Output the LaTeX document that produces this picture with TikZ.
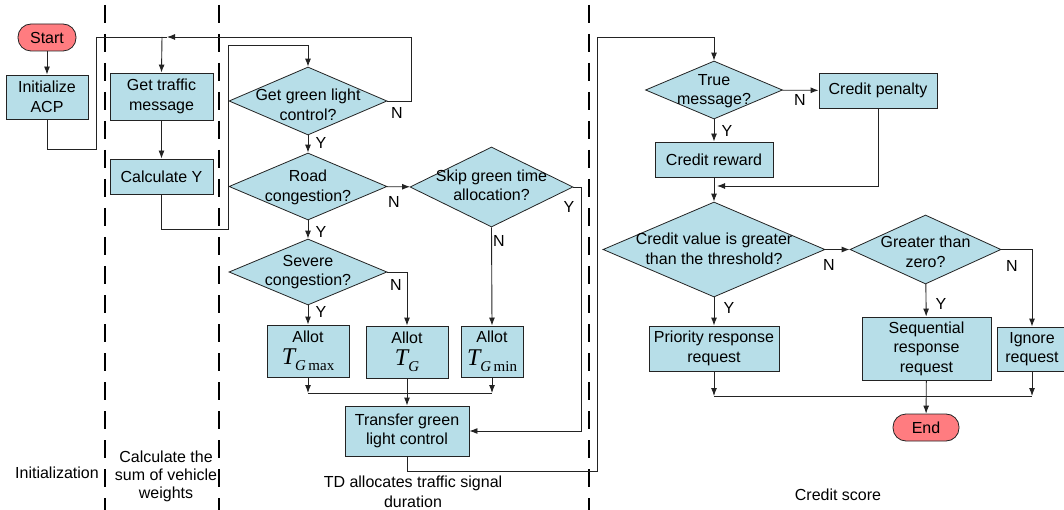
\documentclass[tikz,border=0pt]{standalone}
\usepackage{fontspec}
\setmainfont{Liberation Sans}
\newfontfamily\tnr{Liberation Serif}
\usetikzlibrary{arrows.meta,shapes.geometric}
\definecolor{boxblue}{RGB}{183,222,232}
\definecolor{pill}{RGB}{255,124,128}
\definecolor{ln}{RGB}{35,35,35}
% T with a subscript, set in a Times-like face
\newcommand\Tsub[2]{{\tnr\fontsize{24}{24}\selectfont\itshape T}\raisebox{-6pt}{\tnr\fontsize{15}{15}\selectfont\itshape #1\upshape #2}}
\begin{document}
\begin{tikzpicture}[x=1pt,y=-1pt,
  font=\fontsize{16}{19.5}\selectfont,
  wh/.style 2 args={minimum width=#1,minimum height=#2},
  proc/.style={draw=ln,line width=0.9pt,fill=boxblue,align=center,inner sep=0pt},
  dia/.style={draw=ln,line width=0.8pt,fill=boxblue,shape=diamond,inner sep=0pt},
  term/.style={draw=ln,line width=0.8pt,fill=pill,rounded corners=13pt,inner sep=0pt},
  txt/.style={align=center,inner sep=0pt},
  lbl/.style={inner sep=0pt},
  ln/.style={draw=ln,line width=0.9pt},
  arr/.style={ln,-{Latex[length=8pt,width=6pt]}},
  sep/.style={draw=black,line width=1.3pt,dash pattern=on 18pt off 11pt}]
\useasboundingbox (0,0) rectangle (1064,510);

% lane separators
\draw[sep] (105,5) -- (105,512);
\draw[sep] (219,5) -- (219,512);
\draw[sep] (589,5) -- (589,512);

% lane 1: initialization
\node[term,wh={58}{27}] (start) at (47,37.5) {Start};
\node[proc,wh={82}{44}] (init) at (47,97) {Initialize\\ACP};

% lane 2: vehicle weights
\node[proc,wh={103}{47}] (msg) at (161.5,96.5) {Get traffic\\message};
\node[proc,wh={103}{35}] (calc) at (161.5,176.5) {Calculate Y};

% lane 3: green time allocation
\node[dia,wh={158}{68}] (ggl) at (308,101) {};
\node[txt] (gglt) at (308,105) {Get green light\\control?};
\node[dia,wh={158}{67}] (road) at (308,186.5) {};
\node[txt] (roadt) at (308,187.5) {Road\\congestion?};
\node[dia,wh={163}{80}] (skip) at (491.5,187) {};
\node[txt] (skipt) at (491.5,185.5) {Skip green time\\allocation?};
\node[dia,wh={158}{66}] (sev) at (308,272) {};
\node[txt] (sevt) at (308,272) {Severe\\congestion?};
\node[proc,wh={82}{52}] (tmax) at (308,351) {Allot\\[3pt]\Tsub{G}{\,max}};
\node[proc,wh={82}{52}] (tg) at (407,352) {Allot\\[3pt]\Tsub{G}{}};
\node[proc,wh={62}{51}] (tmin) at (492,351.5) {Allot\\[3pt]\Tsub{G}{\,min}};
\node[proc,wh={124}{50}] (trans) at (407,431) {Transfer green\\light control};

% lane 4: credit score
\node[dia,wh={137}{58}] (tm) at (714,90) {};
\node[txt] (tmt) at (714,91) {True\\message?};
\node[proc,wh={118}{35}] (pen) at (878,90.5) {Credit penalty};
\node[proc,wh={118}{35}] (rew) at (714,159.5) {Credit reward};
\node[dia,wh={222}{95}] (cv) at (714,249.5) {};
\node[txt] (cvt) at (714,249) {Credit value is greater\\than the threshold?};
\node[dia,wh={151}{69}] (gz) at (925.5,249.5) {};
\node[txt] (gzt) at (925.5,252) {Greater than\\zero?};
\node[proc,wh={130}{45}] (pri) at (714,348.5) {Priority response\\request};
\node[proc,wh={129}{63}] (seq) at (926.5,348.5) {Sequential\\response\\request};
\node[proc,wh={70}{44}] (ign) at (1032,349) {Ignore\\request};
\node[term,wh={66}{27}] (end) at (926,427.5) {End};

% junction points
\coordinate (jtop) at (162,37);
\coordinate (jtip) at (167,37);
\coordinate (jl) at (308,393);
\coordinate (jr) at (492,393);
\coordinate (kl) at (714,396);
\coordinate (kr) at (1032,396);

% connectors, lanes 1-2
\draw[arr] (start) -- (init);
\draw[ln] (init.south) -- ++(0,30) -| (96,37) -- (jtip);
\draw[arr] (jtop) -- (msg.north);
\draw[arr] (msg) -- (calc);
\draw[arr] (calc.south) -- ++(0,35) -| (228,45) -| (ggl.north);

% connectors, lane 3
\draw[arr] (ggl.east) -- (411,101) |- (jtip);
\draw[arr] (ggl) -- (road);
\draw[arr] (road) -- (skip);
\draw[arr] (skip.east) -- ++(8,0) |- (trans.east);
\draw[arr] (skip.south) -- (tmin.north);
\draw[arr] (road) -- (sev);
\draw[arr] (sev) -- (tmax);
\draw[arr] (sev.east) -| (tg.north);
\draw[arr] (tmax) -- (jl);
\draw[arr] (tmin) -- (jr);
\draw[ln] (jl) -- (jr);
\draw[arr] (tg) -- (trans);
\draw[arr] (trans.south) -- ++(0,15) -| (597,37) -| (tm.north);

% connectors, lane 4
\draw[arr] (tm) -- (pen);
\draw[arr] (tm) -- (rew);
\draw[arr] (pen.south) |- (717,186);
\draw[arr] (rew) -- (cv);
\draw[arr] (cv) -- (gz);
\draw[arr] (cv) -- (pri);
\draw[arr] (gz) -- (seq);
\draw[arr] (gz.east) -| (ign.north);
\draw[arr] (pri) -- (kl);
\draw[arr] (ign) -- (kr);
\draw[ln] (kl) -- (kr);
\draw[arr] (seq) -- (end);

% branch labels
\node[lbl] (y1) at (321,143) {Y};
\node[lbl] (n1) at (397,113) {N};
\node[lbl] (n2) at (394,202) {N};
\node[lbl] (y2) at (321,232) {Y};
\node[lbl] (y3) at (569,207) {Y};
\node[lbl] (n3) at (499,241) {N};
\node[lbl] (y4) at (321,312) {Y};
\node[lbl] (n4) at (396,285) {N};
\node[lbl] (n5) at (800,100) {N};
\node[lbl] (y5) at (727,131) {Y};
\node[lbl] (n6) at (829,265) {N};
\node[lbl] (y6) at (729,308) {Y};
\node[lbl] (y7) at (941,304) {Y};
\node[lbl] (n7) at (1012,266) {N};

% lane titles
\node[txt] (l1) at (57,473) {Initialization};
\node[txt,font=\fontsize{16}{18}\selectfont] (l2) at (166,476) {Calculate the\\sum of vehicle\\weights};
\node[txt] (l3) at (413,492) {TD allocates traffic signal\\duration};
\node[txt] (l4) at (838,495) {Credit score};
\end{tikzpicture}
\end{document}
